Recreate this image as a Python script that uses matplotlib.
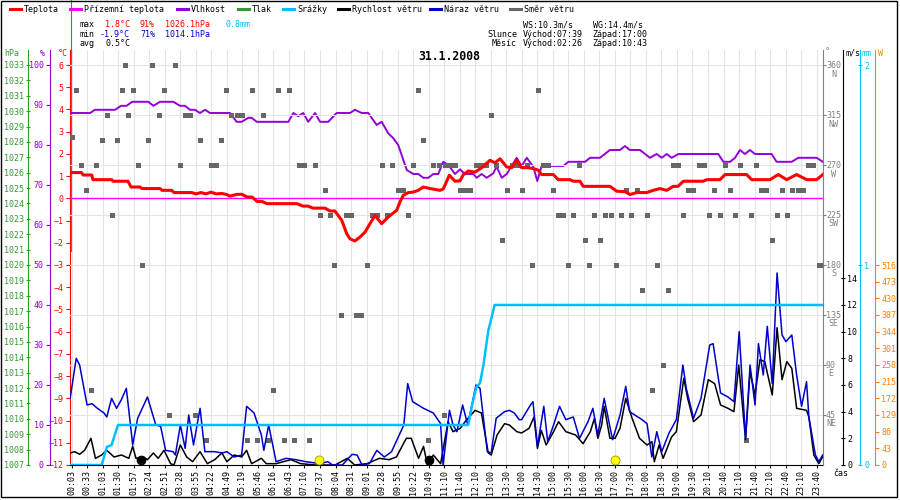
import matplotlib
matplotlib.use('Agg')
import matplotlib.pyplot as plt
from matplotlib.lines import Line2D
from matplotlib.patches import Rectangle
from matplotlib.transforms import ScaledTranslation, blended_transform_factory
import numpy as np

plt.rcParams['font.family'] = ['DejaVu Sans Mono', 'DejaVu Sans']
plt.rcParams['font.size'] = 6

# colours
C_TEMP = '#ff0000'
C_GROUND = '#ff00ff'
C_HUM = '#9400d3'
C_PRES = '#339933'
C_RAIN = '#00bfff'
C_WIND = '#000000'
C_GUST = '#0000cc'
C_DIR = '#666666'
C_DIRAX = '#808080'
C_SOLAR = '#ff8000'
C_GRID = '#e4e4e4'

# ---- data (x = sample index, one label every 10 samples) ----
time_labels = ['00:03', '00:33', '01:03', '01:30', '01:57', '02:24', '02:51', '03:28',
               '03:55', '04:22', '04:49', '05:19', '05:46', '06:16', '06:43', '07:10',
               '07:37', '08:04', '08:31', '09:01', '09:28', '09:55', '10:22', '10:49',
               '11:10', '11:40', '12:10', '13:00', '13:30', '14:00', '14:30', '15:00',
               '15:30', '16:00', '16:30', '17:00', '17:30', '18:00', '18:30', '19:00',
               '19:30', '20:10', '20:40', '21:10', '21:40', '22:10', '22:40', '23:10',
               '23:40']

temp = [(-1, 1.16), (6.4, 1.16), (7.3, 1.05), (12.9, 1.05), (13.7, 0.84), (25.8, 0.84),
        (26.6, 0.77), (36.3, 0.77), (38.2, 0.51), (44, 0.51), (45.3, 0.44), (56.9, 0.44),
        (58.2, 0.36), (64.4, 0.36), (65.9, 0.26), (77.3, 0.26), (80.1, 0.2), (83.3, 0.26),
        (86.5, 0.2), (89.8, 0.28), (93, 0.2), (96.8, 0.22), (99.9, 0.17), (102, 0.1),
        (106.5, 0.18), (109.7, 0.18), (113, 0.06), (116.2, 0.06), (119.4, -0.14),
        (122.6, -0.14), (125.8, -0.24), (145.2, -0.24), (149, -0.35), (152.3, -0.35),
        (155.5, -0.44), (163.2, -0.44), (166.4, -0.57), (169.6, -0.57), (174, -0.99),
        (177.2, -1.59), (179.3, -1.82), (182.5, -1.92), (185.8, -1.74), (189, -1.52),
        (192.2, -1.14), (195.4, -0.77), (199.7, -1.14), (204, -0.84), (207.2, -0.66),
        (209.4, -0.54), (211.5, -0.16), (213.7, 0.14), (216.9, 0.26), (220.1, 0.28),
        (223.3, 0.36), (226.5, 0.51), (230.9, 0.44), (237.3, 0.36), (239.4, 0.42),
        (243.3, 1.04), (247, 0.77), (250.2, 0.79), (252.3, 1.06), (255.5, 1.23),
        (259.9, 1.18), (264.2, 1.38), (269.5, 1.71), (272.7, 1.6), (276, 1.78),
        (280.3, 1.41), (283.5, 1.38), (286.7, 1.71), (289.9, 1.38), (293.2, 1.38),
        (297.4, 1.34), (300.6, 1.27), (302.8, 1.07), (310.3, 1.07), (313.5, 0.84),
        (321, 0.84), (323.2, 0.77), (327.5, 0.77), (329.6, 0.54), (346.8, 0.54),
        (351.2, 0.32), (356.5, 0.3), (359.7, 0.17), (364, 0.26), (370.5, 0.26),
        (374.7, 0.36), (379, 0.44), (383.4, 0.36), (387.6, 0.54), (390.7, 0.54),
        (394.1, 0.77), (407, 0.77), (409.2, 0.84), (417.7, 0.84), (421, 1.07),
        (434.9, 1.07), (438.2, 0.84), (449.9, 0.84), (455.3, 1.07), (460.7, 0.84),
        (467.1, 1.07), (473.6, 0.84), (480, 0.84), (484, 1.07)]

ground_temp = [(-1, 0.0), (484, 0.0)]

humidity = [(-1, 88), (11.8, 88), (15, 88.8), (27.9, 88.8), (31.8, 89.8), (35.4, 89.8),
            (38.9, 90.8), (49.4, 90.8), (52.6, 89.8), (56.9, 90.8), (65.5, 90.8),
            (69.8, 89.8), (73, 89.8), (76.2, 88.8), (79.4, 88.8), (82.7, 88), (85.9, 88.8),
            (89.1, 88), (102, 88), (106.3, 85.8), (109.5, 85.8), (113.8, 86.8), (116, 86.8),
            (119.2, 85.8), (139.6, 85.8), (142.8, 88), (146, 87.2), (149.2, 88),
            (152.4, 85.8), (156.8, 88), (160, 85.8), (165.3, 85.8), (170.7, 88), (179.3, 88),
            (182.5, 88.8), (186.9, 88), (191.1, 88), (196.5, 85), (199.7, 85.8),
            (204, 82.9), (207.2, 81.7), (210.4, 80), (212.6, 77.5), (215.9, 73.75),
            (220.1, 72.75), (223.3, 72.75), (226.5, 71.8), (229.8, 71.8), (233, 72.75),
            (236.2, 72.75), (239.4, 75.8), (242.7, 75), (247, 72.75), (250.2, 73.9),
            (253.4, 72.75), (258.8, 72.75), (260.9, 71.8), (264.2, 72.75), (267.4, 71.8),
            (271.6, 72.9), (273.8, 74.6), (277.1, 71.8), (280.3, 72.75), (286.7, 76.8),
            (289.9, 74.7), (293.2, 76.8), (297.4, 74.6), (300, 71), (302.8, 74.75),
            (316.8, 74.75), (320, 75.8), (330.8, 75.8), (334, 76.8), (340.4, 76.8),
            (346.8, 78.75), (353.3, 78.75), (356.5, 79.75), (359.7, 78.75), (366.2, 78.75),
            (372.6, 76.8), (376.9, 77.75), (380.2, 76.8), (383.4, 77.75), (386.6, 76.8),
            (390.9, 77.75), (416.6, 77.75), (419.9, 75.8), (424.2, 75.8), (427.4, 76.8),
            (430.6, 78.75), (433.8, 77.75), (437, 78.75), (440.3, 77.75), (451, 77.75),
            (454.2, 75.8), (463.9, 75.8), (468.2, 76.8), (480, 76.8), (484, 75.8)]

# pressure trace shows only as a vertical stroke at the start
pressure = [(-0.5, 1020.9), (-0.5, 1037.2)]

rain = [(-1, 0.0), (19.3, 0.0), (22.6, 0.09), (25.7, 0.1), (29.8, 0.2), (255.5, 0.2),
        (258, 0.3), (260.8, 0.39), (263.1, 0.41), (265.3, 0.5), (268.4, 0.67),
        (272.5, 0.8), (484, 0.8)]

gust = [(-1, 5.0), (2.9, 8.0), (5.1, 7.5), (9.9, 4.5), (13.1, 4.6), (16, 4.3), (20.8, 3.9),
        (22.6, 3.6), (25.7, 5.0), (28.9, 4.25), (32, 4.9), (35.2, 5.75), (39.3, 1.5),
        (42.5, 3.5), (48.8, 5.1), (54.2, 3.0), (57.3, 2.9), (60.5, 1.1), (65.3, 1.0),
        (66.8, 0.75), (70, 3.0), (73.1, 1.25), (75.4, 3.75), (78.5, 1.5), (82.7, 4.25),
        (85.8, 1.0), (92.1, 1.0), (96.8, 0.9), (100, 1.0), (104.8, 0.6), (109.5, 0.75),
        (112.7, 4.4), (117.5, 3.9), (122.2, 2.25), (123.8, 1.1), (126.9, 3.0),
        (131.7, 0.25), (138, 0.5), (144.4, 0.4), (150.7, 0.25), (160.2, 0.1), (165, 0.25),
        (168.1, 0), (174.4, 0), (180.7, 0.8), (183.9, 0.75), (187.1, 0), (191.8, 0.1),
        (196.6, 1.1), (201.4, 0.6), (206.1, 1.0), (214, 3.0), (216.5, 6.1), (219.7, 4.75),
        (226.7, 4.25), (233, 3.9), (237.7, 3.1), (239.3, 0), (243.4, 4.1), (245.7, 3.0),
        (248.2, 2.5), (251.9, 4.5), (255.2, 3.0), (260.5, 6.0), (263.1, 5.75),
        (267.8, 1.0), (270.3, 0.9), (273.5, 3.5), (278.9, 4.0), (282, 4.1), (285.2, 3.9),
        (288.3, 3.4), (289.9, 3.4), (295.6, 4.5), (297.2, 4.75), (300.1, 1.4),
        (304.2, 4.4), (306.7, 1.75), (310.5, 3.0), (314.3, 4.4), (318.4, 3.4),
        (323.2, 3.6), (327.2, 2.0), (332.7, 3.25), (335.8, 4.25), (339, 2.25),
        (343.1, 5.0), (348.5, 1.9), (353.3, 3.75), (357, 5.9), (359.5, 4.0), (367.5, 3.4),
        (370.7, 3.1), (373.8, 0.6), (377, 2.5), (380.2, 1.0), (384.9, 2.4), (389.6, 3.4),
        (393.8, 7.5), (396, 5.75), (400.7, 3.5), (405.5, 5.0), (411.1, 9.0), (413.3, 9.1),
        (418.1, 5.4), (422.9, 5.1), (426.7, 4.75), (430.1, 10.0), (434.2, 2.0),
        (437.1, 7.5), (440.3, 4.5), (442.5, 9.1), (445.6, 6.75), (448.2, 10.4),
        (451.4, 6.1), (454.5, 14.4), (457.7, 9.75), (460.2, 9.25), (464, 9.75),
        (467.1, 6.75), (470.3, 4.4), (473.5, 6.25), (475, 3.6), (479.2, 0.75),
        (481.4, 0.25), (483.9, 0.75)]

wind = [(-1, 0.9), (1.9, 1.0), (5.1, 0.8), (8.3, 1.1), (12.4, 2.0), (15.3, 0.5), (19.3, 0.75),
        (22.6, 1.1), (27.3, 0.6), (32, 0.75), (36.8, 0.5), (39.3, 1.4), (41.4, 0.5),
        (46.3, 0.6), (48.8, 0.4), (52.6, 0.9), (55.7, 0.5), (59.5, 1.1), (63.7, 0.1),
        (65.9, 0), (70, 1.5), (74.1, 0.6), (77.9, 0.25), (82.7, 1.0), (87.4, 0.1),
        (92.1, 0.4), (96.8, 0.9), (100, 0.25), (104.8, 0.75), (109.5, 0.6), (112.7, 1.1),
        (115.9, 0.1), (122.2, 0.5), (125.4, 0.1), (131.7, 0.1), (141.2, 0.4),
        (147.6, 0.1), (157, 0), (169.7, 0), (177.6, 0.5), (182.3, 0), (190.3, 0.1),
        (198.2, 0.5), (204.5, 0.4), (209.2, 0.6), (215.6, 2.0), (218.8, 2.0),
        (223.5, 0.5), (226.7, 1.4), (229.2, 0), (233, 0.75), (237.7, 0.1), (242.5, 3.25),
        (245.7, 2.5), (250.4, 2.75), (253.5, 3.25), (259.9, 4.1), (264, 3.9),
        (268.4, 0.9), (270.3, 0.75), (274.1, 2.25), (278.9, 3.1), (282, 3.0),
        (286.8, 2.5), (289.9, 2.4), (294.7, 2.75), (297.9, 3.6), (300.1, 1.25),
        (302.6, 2.6), (305.7, 1.5), (310.5, 2.5), (313.7, 3.25), (318.4, 2.5),
        (324.7, 2.25), (329.5, 1.6), (334.2, 2.5), (336.8, 3.5), (339, 2.0), (341.5, 3.0),
        (343.1, 4.4), (346.8, 2.0), (350.1, 2.0), (353.3, 2.75), (357, 5.0), (361.1, 3.5),
        (365.9, 2.0), (370.7, 1.5), (373.9, 1.75), (375.4, 0.25), (378.5, 1.5),
        (381.1, 0.5), (386.5, 2.1), (389.6, 2.5), (394.4, 6.5), (396.9, 5.0),
        (400.7, 3.25), (405.5, 3.75), (410.2, 6.4), (414.3, 6.1), (418.1, 4.5),
        (422.9, 4.25), (426.7, 4.0), (429.8, 7.5), (434.2, 1.9), (437.1, 7.0),
        (440.3, 5.25), (443.5, 7.9), (446.6, 7.75), (451.4, 5.25), (454.5, 10.3),
        (457.7, 6.4), (460.8, 7.75), (464, 7.25), (467.1, 4.25), (473.5, 4.1), (475, 3.6),
        (478.2, 0.75), (481.4, 0.1), (484.5, 0.75)]

wind_dir = [(0, 295), (2.6, 337.5), (6, 270), (9.2, 247.5), (12.4, 67.5), (15.7, 270),
            (19.3, 292.5), (22.6, 315), (25.8, 225), (29, 292.5), (32.2, 337.5), (34.3, 360),
            (36.5, 315), (39.3, 337.5), (42.5, 270), (45.6, 180), (49, 292.5), (51.7, 360),
            (56.3, 315), (59.5, 337.5), (62.8, 45), (66.6, 360), (69.8, 270), (73, 315),
            (76.2, 315), (79.6, 45), (82.7, 292.5), (86.5, 22.5), (89.8, 270), (92.8, 270),
            (96.2, 292.5), (99.2, 337.5), (102.6, 315), (106.3, 315), (109.5, 315),
            (112.7, 22.5), (116, 337.5), (119.1, 22.5), (123.1, 315), (126.4, 22.5),
            (129.5, 67.5), (133.1, 337.5), (136.5, 22.5), (140, 337.5), (143.4, 22.5),
            (146.5, 270), (149.7, 270), (152.9, 22.5), (156.8, 270), (160, 225),
            (163.2, 247.5), (166.4, 225), (169, 180), (173.5, 135), (176.5, 225),
            (179.8, 225), (183.3, 135), (186.4, 135), (190.3, 180), (193.3, 225),
            (196.5, 225), (199.7, 270), (203, 225), (206.2, 270), (210, 247.5),
            (213.3, 247.5), (216.9, 225), (220.1, 270), (222.9, 337.5), (226.5, 292.5),
            (229.8, 22.5), (233, 270), (236.7, 270), (239.9, 45), (240.7, 270),
            (243.7, 270), (247, 270), (250.2, 247.5), (253.4, 247.5), (256.6, 247.5),
            (260.5, 270), (263.7, 270), (266.9, 270), (270, 315), (273.4, 270),
            (277.1, 202.5), (280.3, 247.5), (283.5, 270), (286.7, 270), (289.9, 247.5),
            (293.6, 270), (296.9, 180), (300.3, 337.5), (303.5, 270), (306.7, 270),
            (309.9, 247.5), (313.5, 225), (316.8, 225), (320, 180), (323.2, 225),
            (326.7, 270), (330.8, 202.5), (333.6, 180), (336.7, 225), (340.4, 202.5),
            (343.6, 225), (347.3, 225), (350.7, 180), (354, 225), (357, 247.5),
            (360.2, 225), (364, 247.5), (367.5, 157.5), (370.5, 225), (373.8, 67.5),
            (377, 180), (381, 90), (384.2, 157.5), (387.2, 270), (390.5, 270),
            (393.7, 225), (396.9, 247.5), (400.5, 247.5), (404.2, 270), (407.4, 270),
            (410.6, 225), (413.9, 247.5), (417.7, 225), (421, 270), (424.2, 247.5),
            (427.4, 225), (430.6, 270), (434.5, 22.5), (437.7, 225), (440.9, 270),
            (444.1, 247.5), (447.4, 247.5), (451, 202.5), (454.2, 225), (457.5, 247.5),
            (460.7, 225), (464.3, 247.5), (467.8, 247.5), (471, 247.5), (474.2, 270),
            (477.5, 270), (481.4, 180), (484.5, 180)]

sun_events = [159.5, 350.0]    # sunrise 07:39, sunset 17:00
moon_events = [44.7, 230.5]    # moonrise 02:26, moonset 10:43

dir_ticks = [45, 90, 135, 180, 225, 270, 315, 360]
dir_names = ['NE', 'E', 'SE', 'S', 'SW', 'W', 'NW', 'N']

PT = 0.72  # points per pixel at 100 dpi


def xy(pts):
    a = np.array(pts, dtype=float)
    return a[:, 0], a[:, 1]


# ---- figure ----
fig = plt.figure(figsize=(9, 5), dpi=100)
fig.patch.set_facecolor('white')
ax = fig.add_axes([70 / 900, 35 / 500, 753 / 900, 415 / 500])
ax.set_xlim(-1.1, 484.1)
ax.set_ylim(-12, 6.675)
for side in ['top', 'right']:
    ax.spines[side].set_visible(False)
ax.spines['left'].set_color(C_TEMP)
ax.spines['left'].set_linewidth(0.8)
ax.spines['bottom'].set_linewidth(0.8)
ax.set_yticks(range(-12, 7))
ax.tick_params(axis='y', colors=C_TEMP, direction='out', length=3, width=0.8, pad=1.5, labelsize=6)
ax.set_xticks(np.arange(len(time_labels)) * 10)
ax.set_xticklabels(time_labels, rotation=90, fontsize=6)
ax.tick_params(axis='x', direction='out', length=2, width=0.8, pad=1.5)
ax.grid(axis='x', color=C_GRID, lw=0.8)
ax.set_axisbelow(True)


def twin(side, offset_px, color, ylim, direction='out'):
    a = ax.twinx()
    a.set_ylim(*ylim)
    for s in a.spines.values():
        s.set_visible(False)
    a.spines[side].set_visible(True)
    a.spines[side].set_color(color)
    a.spines[side].set_linewidth(0.8)
    a.spines[side].set_position(('outward', offset_px * PT))
    a.yaxis.set_ticks_position(side)
    a.tick_params(axis='y', colors=color, direction=direction, length=3, width=0.8,
                  pad=1.5, labelsize=6)
    a.patch.set_visible(False)
    return a


ax_hpa = twin('left', 42, C_PRES, (1007, 1033.975), 'inout')
ax_hpa.set_yticks(range(1007, 1034))
ax_pct = twin('left', 20, C_HUM, (0, 103.75))
ax_pct.set_yticks(range(0, 101, 10))
ax_dir = twin('right', 0, C_DIRAX, (0, 373.5))
ax_dir.set_yticks(dir_ticks)
ax_dir.set_yticklabels([''] * len(dir_ticks))
ax_dir.tick_params(axis='y', length=2)
ax_dir.yaxis.grid(True, color=C_GRID, lw=0.8)
ax_w = twin('right', 52, C_SOLAR, (0, 1070.7))
ax_w.set_yticks(range(0, 517, 43))
ax_ws = twin('right', 20, C_WIND, (0, 31.125), 'inout')
ax_ws.set_yticks(range(0, 15, 2))
ax_mm = twin('right', 37, C_RAIN, (0, 2.075), 'inout')
ax_mm.set_yticks([0, 1, 2])
ax_t = ax.twinx()
ax_t.set_ylim(ax.get_ylim())
ax_t.axis('off')

# compass labels under direction numbers
tr = blended_transform_factory(ax_dir.transAxes, ax_dir.transData) + \
    ScaledTranslation(0.03, 0.045, fig.dpi_scale_trans)
for d, n in zip(dir_ticks, dir_names):
    ax_dir.text(1.0, d, f'{d}\n{n}', transform=tr, ha='left', va='top',
                multialignment='center', color=C_DIRAX, fontsize=6, linespacing=1.0)

# ---- series ----
x, y = xy(pressure)
ax_hpa.plot(x, y, color=C_PRES, lw=0.8, clip_on=False)
x, y = xy(humidity)
ax_pct.plot(x, y, color=C_HUM, lw=1.4)
x, y = xy(wind_dir)
ax_dir.plot(x, y, ls='', marker='s', ms=3.6, color=C_DIR, mew=0)
x, y = xy(wind)
ax_ws.plot(x, y, color=C_WIND, lw=1.1)
x, y = xy(gust)
ax_ws.plot(x, y, color=C_GUST, lw=1.1)
tx = ax_ws.get_xaxis_transform()
ax_ws.plot(moon_events, [0.012] * len(moon_events), transform=tx, ls='', marker='o',
           ms=6, color='black')
ax_ws.plot(sun_events, [0.012] * len(sun_events), transform=tx, ls='', marker='o',
           ms=6.5, mfc='#ffff00', mec='#999900', mew=0.6)
x, y = xy(rain)
ax_mm.plot(x, y, color=C_RAIN, lw=1.8)
x, y = xy(ground_temp)
ax_t.plot(x, y, color=C_GROUND, lw=1.0)
x, y = xy(temp)
ax_t.plot(x, y, color=C_TEMP, lw=2.2)


# ---- texts ----
def ft(px, py, s, color='black', **kw):
    fig.text(px / 900, 1 - py / 500, s, color=color, va='center', ha='left', fontsize=6, **kw)


legend = [(10, 'Teplota', C_TEMP), (70, 'Přízemní teplota', C_GROUND), (177, 'Vlhkost', C_HUM),
          (238, 'Tlak', C_PRES), (283, 'Srážky', C_RAIN), (338, 'Rychlost větru', C_WIND),
          (430, 'Náraz větru', C_GUST), (510, 'Směr větru', C_DIR)]
for lx, name, col in legend:
    fig.add_artist(Line2D([lx / 900, (lx + 11) / 900], [1 - 9 / 500] * 2, color=col, lw=2.2,
                          transform=fig.transFigure))
    ft(lx + 14, 9, name)

ft(80, 24.5, 'max')
ft(105, 24.5, '1.8°C', C_TEMP)
ft(140, 24.5, '91%', C_TEMP)
ft(165, 24.5, '1026.1hPa', C_TEMP)
ft(225, 24.5, '0.8mm', C_RAIN)
ft(80, 34, 'min')
ft(100, 34, '-1.9°C', C_GUST)
ft(140, 34, '71%', C_GUST)
ft(165, 34, '1014.1hPa', C_GUST)
ft(80, 43.5, 'avg')
ft(105, 43.5, '0.5°C')

ft(522.7, 24.5, 'WS:10.3m/s')
ft(592.7, 24.5, 'WG:14.4m/s')
ft(487.3, 34, 'Slunce')
ft(522.7, 34, 'Východ:07:39')
ft(592.7, 34, 'Západ:17:00')
ft(492, 43.5, 'Měsíc')
ft(522.7, 43.5, 'Východ:02:26')
ft(592.7, 43.5, 'Západ:10:43')

fig.text(449 / 900, 1 - 57 / 500, '31.1.2008', ha='center', va='center', fontsize=8.3,
         fontweight='bold')

ft(4, 53, 'hPa', C_PRES)
ft(40, 53, '%', C_HUM)
ft(58, 53, '°C', C_TEMP)
ft(825, 52, '°', C_DIRAX)
ft(845, 53, 'm/s', C_WIND)
ft(862, 53, 'mm', C_RAIN)
ft(878, 53, 'W', C_SOLAR)
ft(833, 473, 'čas')

fig.add_artist(Rectangle((0.5 / 900, 3 / 500), 896.5 / 900, 496 / 500, transform=fig.transFigure,
                         fill=False, ec='black', lw=1.0))

fig.savefig('out.png', dpi=100)
